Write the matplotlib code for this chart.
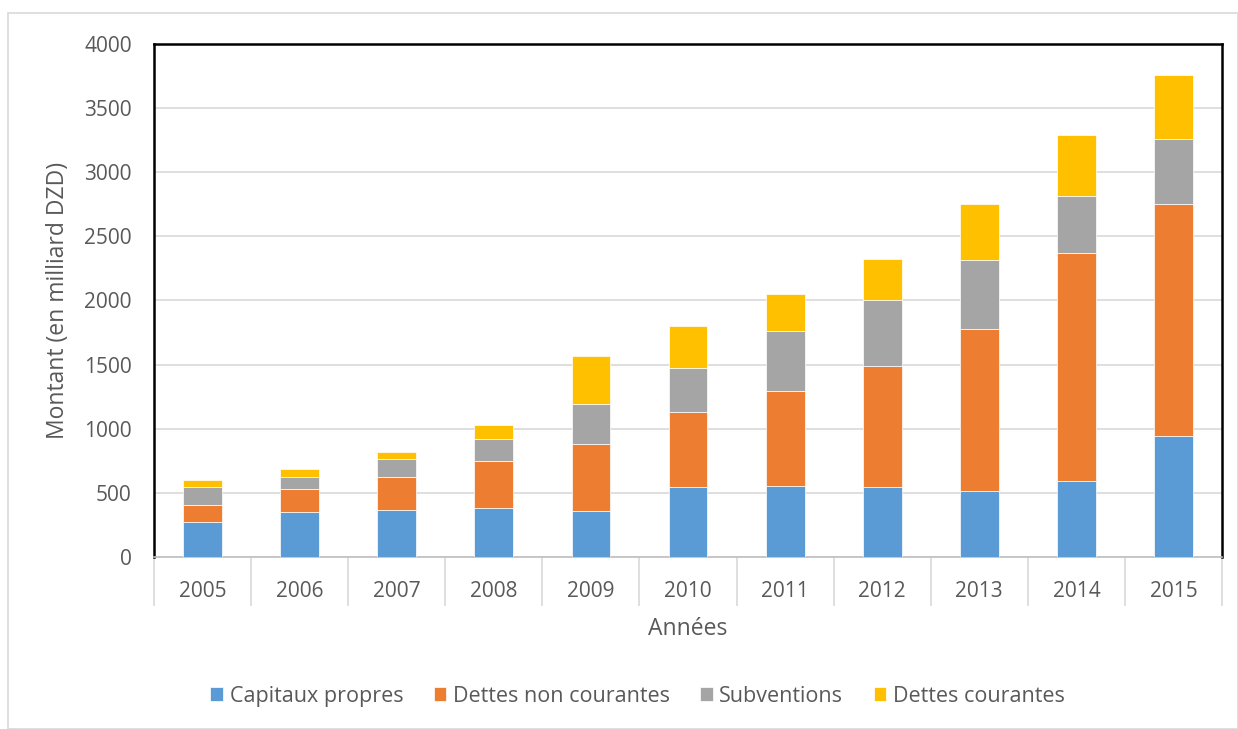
import matplotlib.pyplot as plt
import numpy as np
from matplotlib.patches import Rectangle

years = ['2005', '2006', '2007', '2008', '2009', '2010',
         '2011', '2012', '2013', '2014', '2015']

# montants en milliards DZD
capitaux_propres = [270, 348, 364, 382, 356, 546, 556, 548, 512, 593, 943]
dettes_non_courantes = [133, 180, 262, 369, 525, 587, 736, 944, 1263, 1780, 1807]
subventions = [145, 98, 136, 171, 315, 341, 470, 514, 543, 439, 512]
dettes_courantes = [52, 60, 57, 105, 374, 325, 286, 318, 434, 476, 496]

series = [
    ('Capitaux propres', capitaux_propres, '#5b9bd5'),
    ('Dettes non courantes', dettes_non_courantes, '#ed7d31'),
    ('Subventions', subventions, '#a5a5a5'),
    ('Dettes courantes', dettes_courantes, '#ffc000'),
]

plt.rcParams['font.family'] = ['Open Sans', 'DejaVu Sans']

fig = plt.figure(figsize=(12.38, 7.29), dpi=100)
ax = fig.add_axes([0.1244, 0.236, 0.8627, 0.7036])

x = np.arange(len(years))
bottom = np.zeros(len(years))
for name, vals, color in series:
    ax.bar(x, vals, 0.4, bottom=bottom, color=color, label=name,
           edgecolor='white', linewidth=0.5, zorder=3)
    bottom += np.array(vals)

ax.set_xlim(-0.5, len(years) - 0.5)
ax.set_ylim(0, 4000)
ax.set_yticks(np.arange(0, 4001, 500))
ax.grid(axis='y', color='#d9d9d9', linewidth=1.2, zorder=0)

# category separators below the axis
ax.set_xticks(x)
ax.set_xticklabels(years)
ax.set_xticks(np.arange(-0.5, len(years)), minor=True)
ax.tick_params(axis='x', which='major', length=0, pad=17, labelsize=15, labelcolor='#595959')
ax.tick_params(axis='x', which='minor', length=35, color='#d9d9d9', width=1.2)
ax.tick_params(axis='y', length=0, pad=16, labelsize=15, labelcolor='#595959')

for side in ['left', 'top', 'right']:
    ax.spines[side].set_color('black')
    ax.spines[side].set_linewidth(1.8)
ax.spines['bottom'].set_color('#bfbfbf')
ax.spines['bottom'].set_linewidth(1.2)

ax.set_xlabel('Années', fontsize=16.5, color='#595959', labelpad=5)
ax.set_ylabel('Montant (en milliard DZD)', fontsize=16.5, color='#595959', labelpad=10)

ax.legend(loc='center', bbox_to_anchor=(0.515, 0.045), bbox_transform=fig.transFigure,
          ncol=4, frameon=False, fontsize=15.5, handlelength=0.6, handleheight=0.6,
          handletextpad=0.3, columnspacing=1.4, labelcolor='#595959')

fig.patches.append(Rectangle((8 / 1238, 0), 1 - 8 / 1238, 1 - 13 / 729,
                             transform=fig.transFigure, fill=False,
                             edgecolor='#d9d9d9', linewidth=1.2))

fig.savefig('out.png', dpi=100)
